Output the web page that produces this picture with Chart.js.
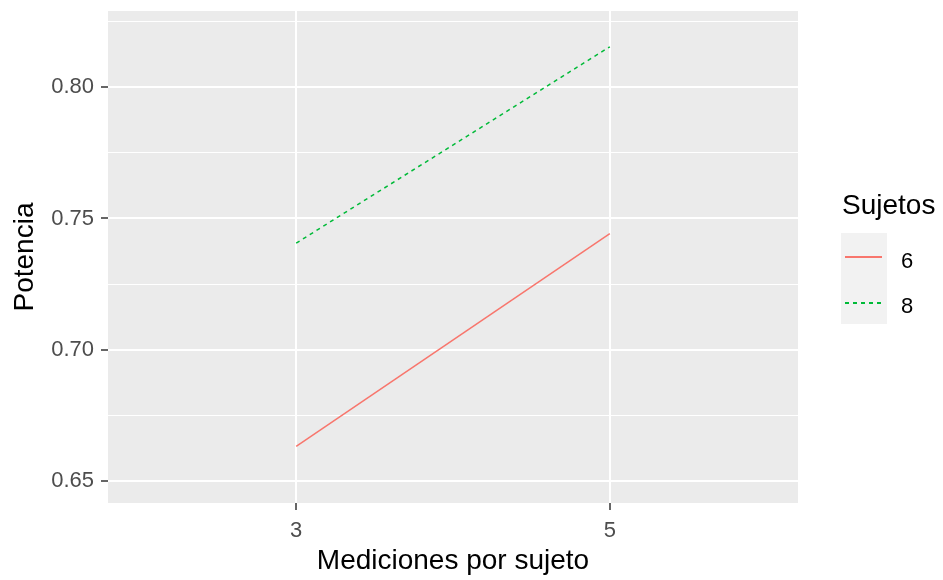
<!DOCTYPE html>
<html>
<head>
<meta charset="utf-8">
<script src="https://cdn.jsdelivr.net/npm/chart.js@4"></script>
<style>
  body { margin: 0; background: #fff; }
  #wrap { position: relative; width: 943px; height: 580px; font-family: "Liberation Sans", Arial, sans-serif; }
  #legend-title { position: absolute; left: 842px; top: 191px; font-size: 28px; line-height: 28px; color: #000; }
  #legend-keys { position: absolute; left: 841px; top: 233px; width: 46px; height: 91px; background: #F2F2F2; }
  .key { position: absolute; left: 4px; width: 37px; height: 1.5px; }
  .lab { position: absolute; left: 901px; font-size: 22px; line-height: 22px; color: #000; }
</style>
</head>
<body>
<div id="wrap">
  <canvas id="c" width="943" height="580"></canvas>
  <div id="legend-title">Sujetos</div>
  <div id="legend-keys">
    <div class="key" style="top: 23px; background: #F8766D;"></div>
    <div class="key" style="top: 69px; background: repeating-linear-gradient(to right, #00BA38 0 4px, transparent 4px 8px);"></div>
  </div>
  <div class="lab" style="top: 250px;">6</div>
  <div class="lab" style="top: 295px;">8</div>
</div>
<script>
const mediciones = [3, 5];
const potencia6 = [0.6633, 0.7442];
const potencia8 = [0.7406, 0.8153];

const yMajor = [0.65, 0.70, 0.75, 0.80];
const yMinor = [0.675, 0.725, 0.775, 0.825];
const xTicks = [3, 5];

const font = "'Liberation Sans', Arial, sans-serif";

function pts(ys) {
  return mediciones.map((x, i) => ({ x: x, y: ys[i] }));
}

function isMajor(v) {
  return yMajor.some((m) => Math.abs(m - v) < 1e-6);
}

// grey ggplot panel behind the grid
const panelBg = {
  id: "panelBg",
  beforeDraw(chart) {
    const a = chart.chartArea;
    const ctx = chart.ctx;
    ctx.save();
    ctx.fillStyle = "#EBEBEB";
    ctx.fillRect(a.left, a.top, a.right - a.left, a.bottom - a.top);
    ctx.restore();
  },
};

new Chart(document.getElementById("c"), {
  type: "line",
  data: {
    datasets: [
      {
        label: "6",
        data: pts(potencia6),
        borderColor: "#F8766D",
        borderWidth: 1.5,
        pointRadius: 0,
        tension: 0,
      },
      {
        label: "8",
        data: pts(potencia8),
        borderColor: "#00BA38",
        borderWidth: 1.5,
        borderDash: [4, 4],
        pointRadius: 0,
        tension: 0,
      },
    ],
  },
  options: {
    responsive: false,
    animation: false,
    layout: { padding: { top: 11, right: 145, bottom: 0, left: 0 } },
    plugins: { legend: { display: false }, tooltip: { enabled: false } },
    scales: {
      x: {
        type: "linear",
        min: 1.8,
        max: 6.2,
        afterBuildTicks: (s) => { s.ticks = xTicks.map((v) => ({ value: v })); },
        afterFit: (s) => {
          s.height = 77;
          s.paddingLeft = 0;
          s.paddingRight = 0;
        },
        border: { display: false },
        grid: { color: "#FFFFFF", lineWidth: 2, tickColor: "#333333", tickLength: 7, tickWidth: 1.5 },
        ticks: { color: "#4D4D4D", font: { family: font, size: 22 }, padding: 8, maxRotation: 0 },
        title: {
          display: true,
          text: "Mediciones por sujeto",
          color: "#000",
          font: { family: font, size: 28 },
          padding: { top: 0, bottom: 2 },
        },
      },
      y: {
        min: 0.6418,
        max: 0.8289,
        afterBuildTicks: (s) => {
          s.ticks = yMajor.concat(yMinor).sort((a, b) => a - b).map((v) => ({ value: v }));
        },
        afterFit: (s) => {
          s.width = 108;
          s.paddingTop = 0;
          s.paddingBottom = 0;
        },
        border: { display: false },
        grid: {
          color: "#FFFFFF",
          lineWidth: (c) => (isMajor(c.tick.value) ? 2 : 1),
          tickColor: (c) => (isMajor(c.tick.value) ? "#333333" : "rgba(0,0,0,0)"),
          tickLength: 7,
          tickWidth: 1.5,
        },
        ticks: {
          color: "#4D4D4D",
          font: { family: font, size: 22 },
          padding: 7,
          callback: (v) => (isMajor(v) ? v.toFixed(2) : ""),
        },
        title: {
          display: true,
          text: "Potencia",
          color: "#000",
          font: { family: font, size: 28 },
          padding: { top: 8, bottom: 0 },
        },
      },
    },
  },
  plugins: [panelBg],
});
</script>
</body>
</html>
